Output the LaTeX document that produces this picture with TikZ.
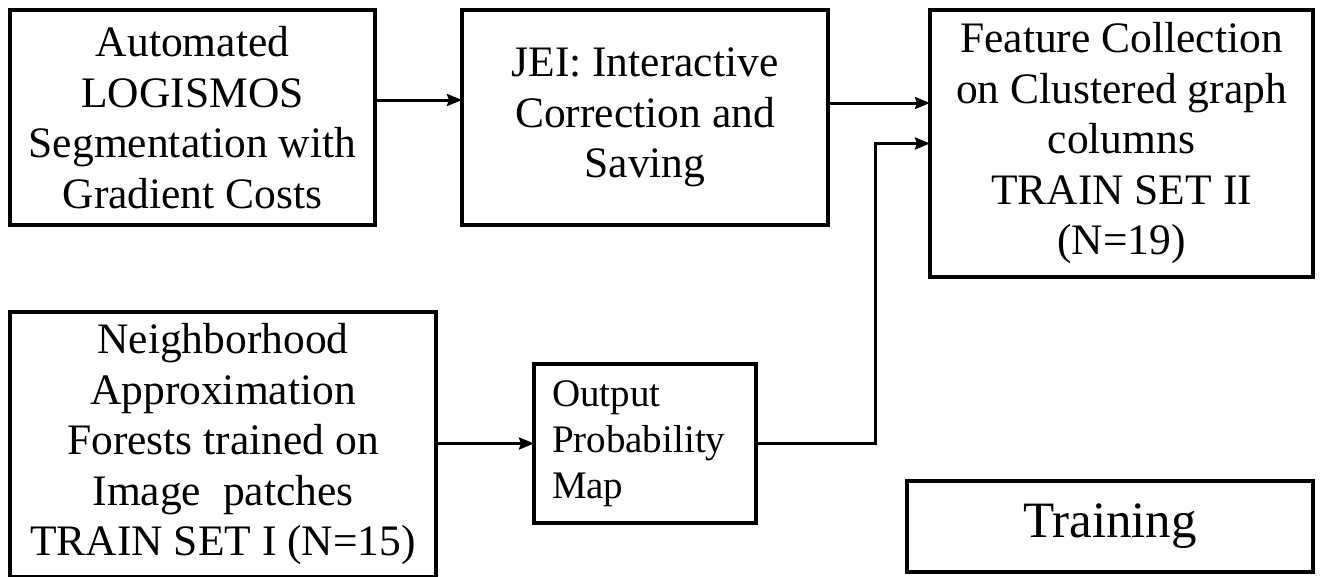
\documentclass[tikz,border=0pt]{standalone}
\usepackage{fontspec}
\setmainfont{Liberation Serif}
\usetikzlibrary{arrows.meta}
\begin{document}
\begin{tikzpicture}[x=1pt,y=-1pt,
  box/.style={draw, line width=3.6pt, align=center, inner sep=0pt, outer sep=0pt},
  big/.style={font=\fontsize{43.5}{50.5}\selectfont},
  mid/.style={font=\fontsize{39}{46}\selectfont},
  arr/.style={line width=3pt, -{Stealth[length=15pt,width=12pt,inset=2pt]}}]
\useasboundingbox (0,0) rectangle (1320,576);
\node[box, big, minimum width=365pt, minimum height=215pt] (auto) at (192.5,117.5)
  {Automated\\LOGISMOS\\Segmentation with\\Gradient Costs};
\node[box, big, minimum width=366pt, minimum height=215pt] (jei) at (645,117.5)
  {JEI: Interactive\\Correction and\\Saving};
\node[box, big, minimum width=383pt, minimum height=267pt] (feat) at (1121.5,143.5)
  {Feature Collection\\on Clustered graph\\columns\\TRAIN SET II\\(N=19)};
\node[box, big, minimum width=426pt, minimum height=265pt] (nbr) at (223,444.5)
  {Neighborhood\\Approximation\\Forests trained on\\Image~~patches\\TRAIN SET I (N=15)};
\node[box, mid, minimum width=222pt, minimum height=159pt, text width=186pt, align=left] (out) at (645,443.5)
  {Output\\Probability\\Map};
\node[box, font=\fontsize{51}{58}\selectfont, minimum width=406pt, minimum height=91pt] (train) at (1110,526.5)
  {Training};
\coordinate (bend) at (875,143.5);
\draw[arr] ([yshift=17.5pt]auto.east) -- ([yshift=17.5pt]jei.west);
\draw[arr] ([yshift=14.5pt]jei.east) -- ([yshift=14.5pt]jei.east -| feat.west);
\draw[arr] (nbr.east |- out.west) -- (out.west);
\draw[arr] (out.east) -| (bend) -- (feat.west);
\end{tikzpicture}
\end{document}
